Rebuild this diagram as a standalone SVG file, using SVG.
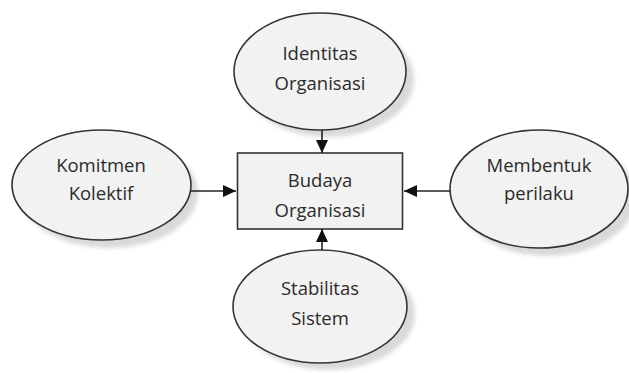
<svg xmlns="http://www.w3.org/2000/svg" width="629" height="373" viewBox="0 0 629 373">
<defs>
<filter id="sh" x="-20%" y="-20%" width="140%" height="140%"><feGaussianBlur stdDeviation="2"/></filter>
<marker id="ah" markerWidth="14" markerHeight="12" refX="13" refY="6" orient="auto" markerUnits="userSpaceOnUse"><path d="M0,0 L13,6 L0,12 Z" fill="#111"/></marker>
<style>
.node{fill:#f2f2f2;stroke:#333;stroke-width:1.6}
.shadow{fill:#d9d9d9;filter:url(#sh)}
.t{font-family:"Open Sans","Noto Sans",sans-serif;font-size:18.5px;fill:#2b2b2b;text-anchor:middle}
.c{stroke:#222;stroke-width:1.6;fill:none;marker-end:url(#ah)}
</style>
</defs>
<rect width="629" height="373" fill="#fff"/>
<g id="identitas">
<ellipse class="shadow" cx="328" cy="79" rx="86" ry="58"/>
<ellipse class="node" cx="320" cy="71.5" rx="86" ry="58.5"/>
<text class="t" x="320" y="59.5">Identitas</text>
<text class="t" x="320" y="89.5">Organisasi</text>
</g>
<g id="komitmen">
<ellipse class="shadow" cx="109" cy="193" rx="89" ry="55"/>
<ellipse class="node" cx="101.5" cy="185" rx="89.5" ry="55"/>
<text class="t" x="101" y="171.5">Komitmen</text>
<text class="t" x="101" y="199.5">Kolektif</text>
</g>
<g id="membentuk">
<ellipse class="shadow" cx="547" cy="197" rx="89" ry="59"/>
<ellipse class="node" cx="539" cy="189" rx="89" ry="59"/>
<text class="t" x="539" y="171.5">Membentuk</text>
<text class="t" x="539" y="199.5">perilaku</text>
</g>
<g id="stabilitas">
<ellipse class="shadow" cx="328" cy="314" rx="87" ry="56"/>
<ellipse class="node" cx="320" cy="306.5" rx="87" ry="56.5"/>
<text class="t" x="320" y="294.5">Stabilitas</text>
<text class="t" x="320" y="324.5">Sistem</text>
</g>
<g id="budaya">
<rect class="node" x="237.5" y="153" width="165" height="76"/>
<text class="t" x="320" y="186.5">Budaya</text>
<text class="t" x="320" y="216.5">Organisasi</text>
</g>
<g id="connectors">
<line class="c" x1="322" y1="130" x2="322" y2="153"/>
<line class="c" x1="191" y1="191" x2="236" y2="191"/>
<line class="c" x1="450" y1="191" x2="404" y2="191"/>
<line class="c" x1="322" y1="250" x2="322" y2="229"/>
</g>
</svg>
